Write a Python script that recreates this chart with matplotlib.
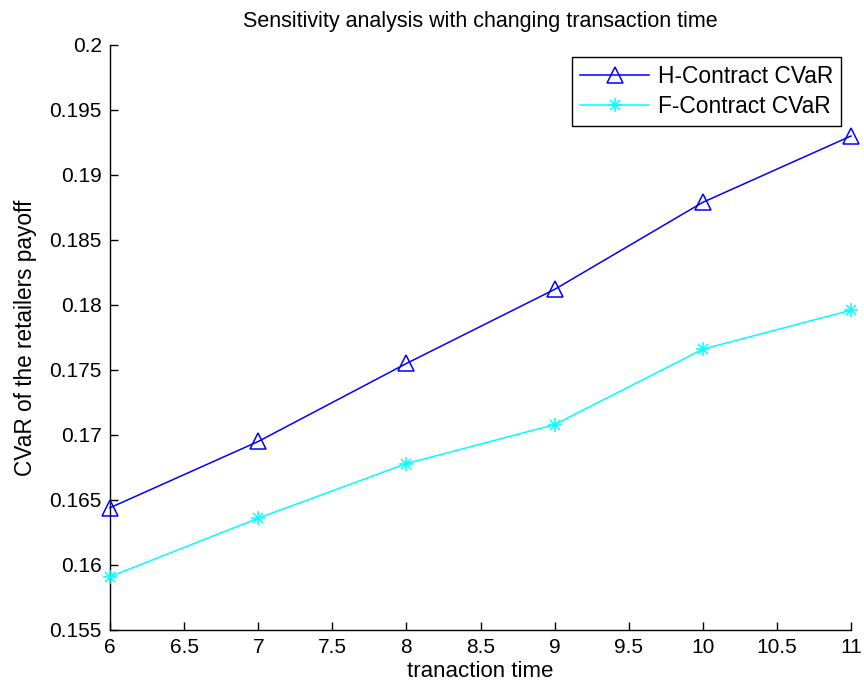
import matplotlib
matplotlib.use("Agg")
import matplotlib.pyplot as plt
from matplotlib.ticker import FuncFormatter, MultipleLocator
from matplotlib.legend_handler import HandlerTuple

plt.rcParams['font.family'] = ['Liberation Sans', 'DejaVu Sans']

x = [6, 7, 8, 9, 10, 11]
h_cvar = [0.1644, 0.1695, 0.1755, 0.1812, 0.1879, 0.1930]
f_cvar = [0.1591, 0.1636, 0.1678, 0.1708, 0.1766, 0.1796]

fig = plt.figure(figsize=(8.64, 6.91), dpi=100)
ax = fig.add_axes([0.1273, 0.0883, 0.8577, 0.8466])

h_line, = ax.plot(x, h_cvar, color='#0000ff', lw=1.1, marker='^', markersize=11,
                  markerfacecolor='none', markeredgecolor='#0000ff', markeredgewidth=1.1,
                  clip_on=False, zorder=3)
f_line, = ax.plot(x, f_cvar, color='#00ffff', lw=1.1, marker='+', markersize=10,
                  markeredgecolor='#00ffff', markeredgewidth=1.1,
                  clip_on=False, zorder=3)
f_x, = ax.plot(x, f_cvar, linestyle='none', marker='x', markersize=7,
               markeredgecolor='#00ffff', markeredgewidth=1.1,
               clip_on=False, zorder=3)

ax.set_xlim(6, 11)
ax.set_ylim(0.155, 0.2)
ax.xaxis.set_major_locator(MultipleLocator(0.5))
ax.yaxis.set_major_locator(MultipleLocator(0.005))
fmt = FuncFormatter(lambda v, p: '%g' % round(v, 4))
ax.xaxis.set_major_formatter(fmt)
ax.yaxis.set_major_formatter(fmt)

for s in ['top', 'right']:
    ax.spines[s].set_visible(False)
for s in ['left', 'bottom']:
    ax.spines[s].set_linewidth(1.0)

ax.tick_params(direction='in', length=6, width=1.0, labelsize=15, pad=6)

ax.set_title('Sensitivity analysis with changing transaction time', fontsize=15.5, pad=13)
ax.set_xlabel('tranaction time', fontsize=16, labelpad=3)
ax.set_ylabel('CVaR of the retailers payoff', fontsize=16.3, labelpad=9)

leg = ax.legend([h_line, (f_line, f_x)], ['H-Contract CVaR', 'F-Contract CVaR'],
                handler_map={tuple: HandlerTuple(ndivide=1, pad=0)},
                loc='upper right', bbox_to_anchor=(0.9865, 0.9795), borderaxespad=0,
                fontsize=16.4, fancybox=False, framealpha=1, edgecolor='black',
                handlelength=3.0, borderpad=0.35, labelspacing=0.3,
                handletextpad=0.4)
leg.get_frame().set_linewidth(1.0)

fig.savefig('out.png', dpi=100)
